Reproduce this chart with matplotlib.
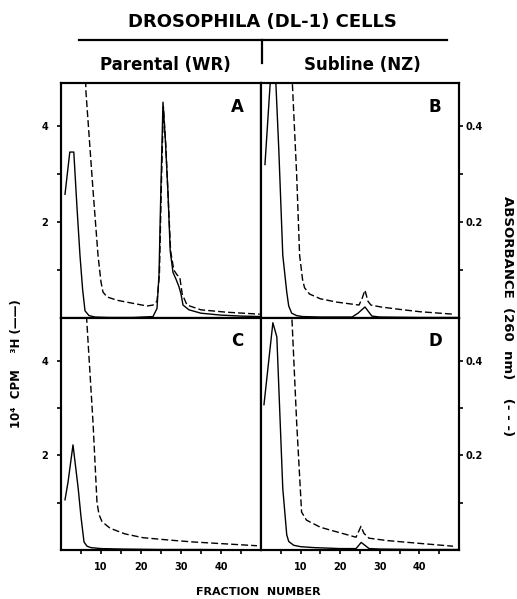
import numpy as np
import matplotlib.pyplot as plt

# A - parental (WR), 3H counts (10^4 cpm) and absorbance at 260 nm
a_frac=	[1, 2.2, 3.2, 4, 4.75, 5.4, 6, 7, 8.5, 12, 18, 23, 24, 24.5, 25, 25.5, 26.1, 26.75, 27.3, 28, 28.8, 29.5, 30, 30.5, 32, 35, 40, 45, 50]
a_cpm=	[2.58, 3.46, 3.46, 2.3, 1.3, 0.6, 0.15, 0.05, 0.02, 0.01, 0.01, 0.03, 0.2, 0.9, 2.8, 4.5, 3.7, 2.6, 1.4, 0.95, 0.8, 0.65, 0.5, 0.27, 0.17, 0.1, 0.06, 0.04, 0.03]
a_abs_frac=	[5.8, 6.25, 8, 9.25, 10.0, 10.5, 11.5, 14, 16.5, 19, 21.5, 23, 24, 24.6, 25.1, 25.6, 26.2, 26.8, 27.4, 28.2, 29, 29.7, 30.3, 31.5, 35, 41.5, 49.7]
a_abs=	[0.6, 0.47, 0.267, 0.131, 0.075, 0.054, 0.044, 0.037, 0.033, 0.029, 0.025, 0.027, 0.035, 0.09, 0.28, 0.44, 0.36, 0.25, 0.14, 0.1, 0.09, 0.085, 0.05, 0.027, 0.017, 0.012, 0.008]

# B - subline (NZ)
b_frac=	[1, 2.4, 3.0, 3.7, 4.5, 5.5, 6.5, 7, 7.75, 9, 10.5, 15, 23, 24.5, 26.25, 28, 30, 40, 50]
b_cpm=	[3.2, 5.0, 5.4, 5.0, 3.5, 1.31, 0.54, 0.25, 0.1, 0.05, 0.03, 0.02, 0.02, 0.1, 0.23, 0.04, 0.02, 0.01, 0.01]
b_abs_frac=	[7.6, 8, 9, 9.75, 10.5, 11, 12.25, 15, 19.25, 22, 24.75, 25.5, 26.25, 27, 27.75, 30.25, 35, 40.25, 48.5]
b_abs=	[0.55, 0.475, 0.3, 0.131, 0.08, 0.063, 0.05, 0.04, 0.033, 0.03, 0.027, 0.04, 0.058, 0.035, 0.027, 0.023, 0.018, 0.013, 0.008]

# C - parental (WR)
c_frac=	[1, 1.75, 3, 4.3, 5.0, 5.75, 6.5, 7.5, 10, 15, 25, 35, 50]
c_cpm=	[1.06, 1.43, 2.22, 1.3, 0.7, 0.17, 0.08, 0.05, 0.03, 0.02, 0.01, 0.01, 0.0]
c_abs_frac=	[6.0, 6.4, 8, 9, 9.5, 10.25, 12.25, 16, 20.5, 27, 33, 41, 49]
c_abs=	[0.6, 0.49, 0.27, 0.1, 0.075, 0.06, 0.046, 0.034, 0.026, 0.021, 0.017, 0.013, 0.009]

# D - subline (NZ)
d_frac=	[0.75, 3, 4, 5.5, 6.5, 7, 8.25, 10, 13.5, 20, 24, 25.3, 27.3, 30, 40, 50]
d_cpm=	[3.07, 4.8, 4.5, 1.3, 0.32, 0.18, 0.1, 0.07, 0.05, 0.03, 0.03, 0.16, 0.03, 0.02, 0.01, 0.01]
d_abs_frac=	[7.5, 7.75, 9, 10.25, 11.5, 15, 19.25, 24, 25.25, 26, 27.25, 31.75, 40, 48.5]
d_abs=	[0.55, 0.5, 0.27, 0.08, 0.063, 0.048, 0.038, 0.027, 0.05, 0.035, 0.025, 0.02, 0.014, 0.008]

x_major=	[10, 20, 30, 40]
x_minor=	[5, 15, 25, 35, 45]
cpm_major=	[2, 4]
cpm_minor=	[1, 3]
abs_major=	[0.2, 0.4]
abs_minor=	[0.1, 0.3]

FW= 517; FH= 599
def box(x0, y0, x1, y1):
	# pixel box -> figure fraction
	return [x0/FW, 1-y1/FH, (x1-x0)/FW, (y1-y0)/FH]

def draw_panel(fig, rect, frac, cpm, abs_frac, absorb, letter, right, bottom):
	ax= fig.add_axes(rect)
	ax2= ax.twinx()
	ax.plot(frac, cpm, color='k', lw=1.0)
	ax2.plot(abs_frac, absorb, color='k', lw=1.0, ls=(0, (5, 2.2)))
	ax.set_xlim(0, 50)
	ax.set_ylim(0, 4.9)
	ax2.set_ylim(0, 0.49)
	for a in (ax, ax2):
		for s in a.spines.values():
			s.set_linewidth(1.5)
	ax.set_xticks(x_major)
	ax.set_xticks(x_minor, minor=True)
	ax.tick_params(axis='x', which='both', direction='out', length=3, width=1.2, labelsize=7, pad=6, labelbottom=bottom)
	if bottom:
		for t in ax.get_xticklabels(): t.set_fontweight('bold')
	if right:
		ax.tick_params(axis='y', which='both', left=False, labelleft=False)
		ax2.set_yticks(abs_major)
		ax2.set_yticks(abs_minor, minor=True)
		ax2.set_yticklabels(['%.1f' % v for v in abs_major], fontweight='bold')
		ax2.tick_params(axis='y', which='both', direction='out', length=3, width=1.2, labelsize=7, pad=2)
	else:
		ax.set_yticks(cpm_major)
		ax.set_yticks(cpm_minor, minor=True)
		ax.set_yticklabels([str(v) for v in cpm_major], fontweight='bold')
		ax.tick_params(axis='y', which='both', direction='out', length=3, width=1.2, labelsize=7, pad=6)
		ax2.tick_params(axis='y', which='both', right=False, labelright=False)
	ax.text(0.88, 0.9, letter, transform=ax.transAxes, fontsize=12, fontweight='bold', ha='center', va='center')
	return ax

fig= plt.figure(figsize=(FW/100, FH/100), dpi=100)
draw_panel(fig, box(61, 83, 261, 318), a_frac, a_cpm, a_abs_frac, a_abs, 'A', False, False)
draw_panel(fig, box(261, 83, 459, 318), b_frac, b_cpm, b_abs_frac, b_abs, 'B', True, False)
draw_panel(fig, box(61, 318, 261, 550), c_frac, c_cpm, c_abs_frac, c_abs, 'C', False, True)
draw_panel(fig, box(261, 318, 459, 550), d_frac, d_cpm, d_abs_frac, d_abs, 'D', True, True)

# header
fig.text(262/FW, 1-22/FH, 'DROSOPHILA (DL-1) CELLS', ha='center', va='center', fontsize=13, fontweight='bold')
fig.add_artist(plt.Line2D([79/FW, 447/FW], [1-40/FH, 1-40/FH], color='k', lw=1.6))
fig.add_artist(plt.Line2D([262/FW, 262/FW], [1-40/FH, 1-63/FH], color='k', lw=1.6))
fig.text(165/FW, 1-65/FH, 'Parental (WR)', ha='center', va='center', fontsize=12, fontweight='bold')
fig.text(362/FW, 1-65/FH, 'Subline (NZ)', ha='center', va='center', fontsize=12, fontweight='bold')

fig.text(258/FW, 1-592/FH, 'FRACTION  NUMBER', ha='center', va='center', fontsize=8, fontweight='bold')
fig.text(17/FW, 1-364/FH, '10\u2074  CPM    \u00b3H (\u2014\u2014)', ha='center', va='center', rotation=90, fontsize=8.5, fontweight='bold')
fig.text(508/FW, 1-316/FH, 'ABSORBANCE  (260  nm)    (- - -)', ha='center', va='center', rotation=-90, fontsize=9.5, fontweight='bold')

fig.savefig('out.png', dpi=100)
